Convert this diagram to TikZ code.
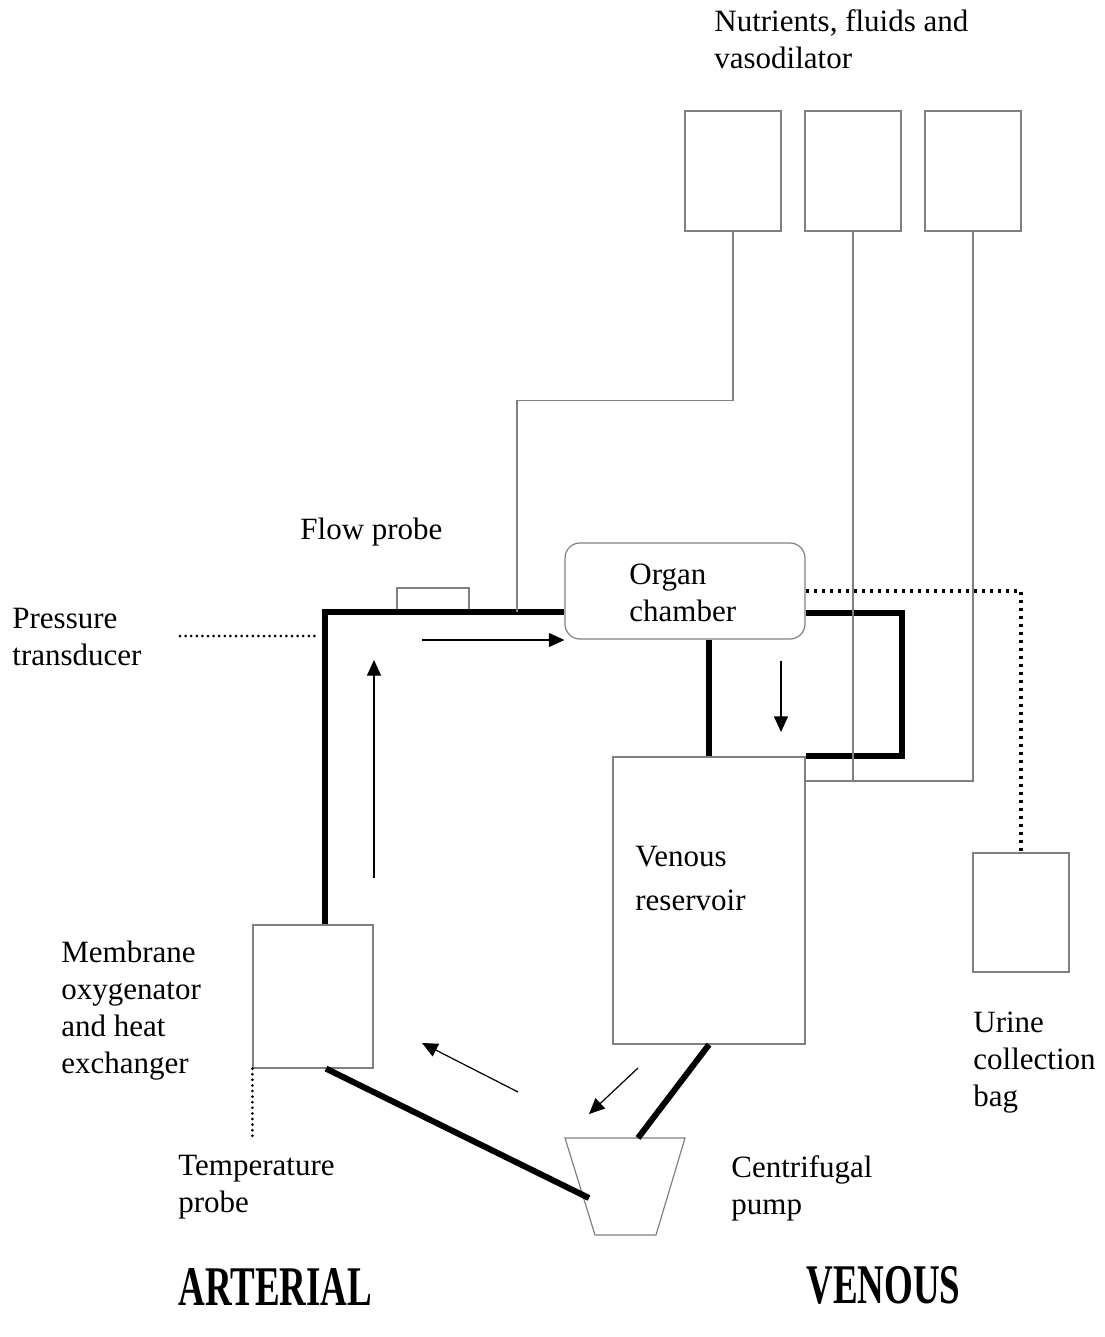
\documentclass[tikz,border=0pt]{standalone}
\usepackage{fontspec}
\setmainfont{Liberation Serif}
\usepackage{graphicx}
\usetikzlibrary{arrows.meta,calc}

\begin{document}
\begin{tikzpicture}[x=0.5pt,y=-0.5pt,
  box/.style={draw=gray,line width=0.6pt,inner sep=0pt},
  tube/.style={line width=3pt},
  feed/.style={draw=gray,line width=0.7pt},
  flow/.style={line width=0.6pt,-{Triangle[length=7.8pt,width=7pt]}},
  probeline/.style={line width=1.5pt,line cap=round,dash pattern=on 0pt off 2.8pt},
  drain/.style={line width=1.6pt,dash pattern=on 1.6pt off 2.4pt},
  lbl/.style={anchor=north west,inner sep=0pt,align=left,font=\fontsize{15.5}{18.5}\selectfont},
  side/.style={anchor=base west,inner sep=0pt}]
\useasboundingbox (0,0) rectangle (1104,1337);

% bags for nutrients, fluids and vasodilator
\node[box,minimum width=48pt,minimum height=60pt] (bag1) at (733,171) {};
\node[box,minimum width=48pt,minimum height=60pt] (bag2) at (853,171) {};
\node[box,minimum width=48pt,minimum height=60pt] (bag3) at (973,171) {};

\node[box,rounded corners=7.5pt,minimum width=120pt,minimum height=48pt] (organ) at (685,591) {};
\node[box,minimum width=96pt,minimum height=143.5pt] (res) at (709,900.5) {};
\node[box,minimum width=48pt,minimum height=59.5pt] (urine) at (1021,912.5) {};
\node[box,minimum width=60pt,minimum height=71.5pt] (oxy) at (313,996.5) {};
\node[box,minimum width=36pt,minimum height=12pt] (flowp) at (433,600) {};

% centrifugal pump
\coordinate (ptl) at (565,1138);
\coordinate (ptr) at (685,1138);
\coordinate (pbr) at (656,1235);
\coordinate (pbl) at (595,1235);
\draw[gray,line width=0.6pt] (ptl) -- (ptr) -- (pbr) -- (pbl) -- cycle;
\coordinate (pumpin) at (638,1138);
\coordinate (pumpout) at (589,1198);

% blood circuit
\draw[tube] ([xshift=6pt]oxy.north) |- ([yshift=-10.5pt]organ.west);
\draw[tube] (organ.south -| res.north) -- (res.north);
\draw[tube] ([yshift=-11pt]organ.east) -- ++(96,0) |- (res.north east);
\draw[tube] (res.south) -- (pumpin);
\draw[tube] ([xshift=6.5pt]oxy.south) -- (pumpout);

% infusion lines
\coordinate (feedin) at (517,612);
\coordinate (resin) at (res.east |- 0,781);
\draw[feed] (bag1.south) -- ++(0,169) -| (feedin);
\draw[feed] (bag2.south) |- (resin);
\draw[feed] (bag3.south) |- (resin);

% probes and drain
\coordinate (ptx) at (180,636);
\draw[probeline] (ptx) -- (318,636);
\draw[probeline] (oxy.south west) -- ++(0,70);
\draw[drain] (organ.east) -| (urine.north);

% direction of flow
\draw[flow] (422,640) -- (organ.west |- 0,640);
\draw[flow] (374,878) -- (374,660);
\draw[flow] (781,661) -- (781,732);
\draw[flow] (518,1092) -- (422,1043);
\draw[flow] (638,1068) -- (589,1114);

% labels
\node[lbl] (nutr) at (714,9) {Nutrients, fluids and\\vasodilator};
\node[lbl] (flowlbl) at (300,518) {Flow probe};
\node[lbl] (press) at (12,608) {Pressure\\transducer};
\node[lbl] (organlbl) at (629,564) {Organ\\chamber};
\node[lbl] (reslbl) at (635,846) {Venous\\[3.5pt]reservoir};
\node[lbl] (oxylbl) at (61,941) {Membrane\\oxygenator\\and heat\\exchanger};
\node[lbl] (templbl) at (178,1155) {Temperature\\probe};
\node[lbl] (pumplbl) at (731,1155) {Centrifugal\\pump};
\node[lbl] (urinelbl) at (973,1012) {Urine\\collection\\bag};
\node[side] (art) at (178,1305) {\scalebox{0.66}[1]{\fontsize{28}{28}\selectfont\bfseries ARTERIAL}};
\node[side] (ven) at (806,1303) {\scalebox{0.66}[1]{\fontsize{28}{28}\selectfont\bfseries VENOUS}};
\end{tikzpicture}
\end{document}
